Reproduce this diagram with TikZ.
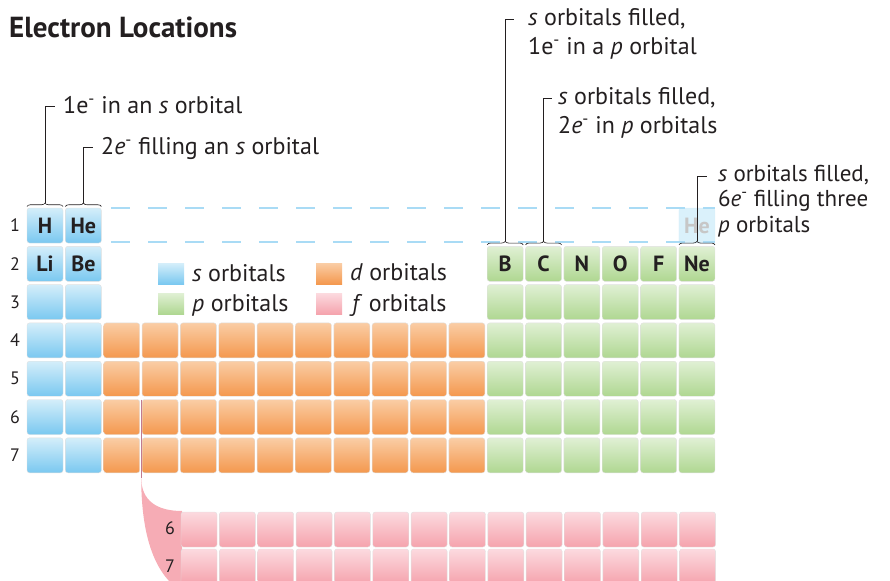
\documentclass[tikz,border=0pt]{standalone}
\usepackage{fontspec}
\setmainfont{PT Sans}
\usetikzlibrary{decorations.pathreplacing}
\definecolor{sblue}{RGB}{122,200,240}
\definecolor{sbluelt}{RGB}{212,238,250}
\definecolor{dorg}{RGB}{244,152,78}
\definecolor{dorglt}{RGB}{250,205,165}
\definecolor{pgrn}{RGB}{175,215,145}
\definecolor{pgrnlt}{RGB}{224,240,212}
\definecolor{fpink}{RGB}{245,163,173}
\definecolor{fpinklt}{RGB}{252,218,223}
\definecolor{ink}{RGB}{35,31,32}
\definecolor{mauve}{RGB}{192,122,144}
\newcommand{\elminus}{\textsuperscript{-}}
\begin{document}
\begin{tikzpicture}[x=1pt,y=1pt,
  cellbase/.style={anchor=north west, minimum width=36pt, minimum height=35pt,
    inner sep=0pt, outer sep=0pt, rounded corners=2.5pt, draw=black!12, line width=0.4pt},
  scell/.style={cellbase, top color=sbluelt, bottom color=sblue},
  dcell/.style={cellbase, top color=dorglt, bottom color=dorg},
  pcell/.style={cellbase, top color=pgrnlt, bottom color=pgrn},
  fcell/.style={cellbase, top color=fpinklt, bottom color=fpink},
  swatch/.style={anchor=north west, minimum width=26pt, minimum height=21pt, inner sep=0pt},
  elem/.style={font=\fontsize{22}{22}\selectfont\bfseries, text=ink, inner sep=0pt},
  lbl/.style={font=\fontsize{24}{28}\selectfont, text=ink, inner sep=0pt, anchor=base west},
  num/.style={font=\fontsize{18}{18}\selectfont, text=ink, inner sep=0pt},
  brc/.style={decorate, decoration={brace, amplitude=3.5pt, raise=1.5pt}, line width=0.6pt, draw=ink},
  conn/.style={line width=0.7pt, draw=ink},
  dashln/.style={draw=sblue!65, line width=1.1pt, dash pattern=on 19pt off 18pt}
]
\useasboundingbox (0,0) rectangle (890,-580);

% title
\node[font=\fontsize{29}{29}\selectfont\bfseries, text=ink, inner sep=0pt, anchor=base west] (title) at (9,-38) {Electron Locations};

% s block
\foreach \r in {1,...,7}
  \foreach \c in {1,2}
    \node[scell] (c\c-\r) at ({27+(\c-1)*38.35},{-(208+(\r-1)*38.3)}) {};
% d block
\foreach \r in {4,...,7}
  \foreach \c in {3,...,12}
    \node[dcell] (c\c-\r) at ({27+(\c-1)*38.35},{-(208+(\r-1)*38.3)}) {};
% p block
\foreach \r in {2,...,7}
  \foreach \c in {13,...,18}
    \node[pcell] (c\c-\r) at ({27+(\c-1)*38.35},{-(208+(\r-1)*38.3)}) {};

% ghost He
\node[cellbase, fill=sbluelt!85, draw=sblue!30] (ghost) at ({27+17*38.35},-208) {};
\node[elem, text=black!22] (tghost) at (ghost) {He};
\draw[dashln] ([xshift=10pt]c2-1.north east) -- (ghost.north east);
\draw[dashln] ([xshift=10pt,yshift=1pt]c2-1.south east) -- ([yshift=1pt]ghost.south east);

% element symbols
\node[elem] (tH)  at (c1-1) {H};
\node[elem] (tHe) at (c2-1) {He};
\node[elem] (tLi) at (c1-2) {Li};
\node[elem] (tBe) at (c2-2) {Be};
\node[elem] (tB)  at (c13-2) {B};
\node[elem] (tC)  at (c14-2) {C};
\node[elem] (tN)  at (c15-2) {N};
\node[elem] (tO)  at (c16-2) {O};
\node[elem] (tF)  at (c17-2) {F};
\node[elem] (tNe) at (c18-2) {Ne};

% period numbers
\foreach \r in {1,...,7}
  \node[num] (n\r) at (15,{-(225.5+(\r-1)*38.3)}) {\r};

% legend
\node[swatch, top color=sbluelt, bottom color=sblue] (ls) at (158,-263) {};
\node[lbl] (lst) at (192,-281) {\textit{s} orbitals};
\node[swatch, top color=pgrnlt, bottom color=pgrn] (lp) at (158,-293) {};
\node[lbl] (lpt) at (192,-311) {\textit{p} orbitals};
\node[swatch, top color=dorglt, bottom color=dorg] (ld) at (316,-263) {};
\node[lbl] (ldt) at (350,-280) {\textit{d} orbitals};
\node[swatch, top color=fpinklt, bottom color=fpink] (lf) at (316,-293) {};
\node[lbl] (lft) at (352,-311) {\textit{f} orbitals};

% f block connector flare
\coordinate (fl0) at ([xshift=1.5pt]c3-6.north east);
\coordinate (fl1) at ([xshift=1.5pt,yshift=-78pt]c3-6.north east);
\fill[fpink!90] (fl1) .. controls +(0,-24) and (158,-511) .. (182,-511) -- (182,-584) -- (172,-584) .. controls (152,-565) and (fl1 |- 0,-530) .. (fl1) -- cycle;
\draw[draw=mauve, line width=0.8pt] (fl0) -- (fl1);

% f block
\foreach \r in {0,1}
  \foreach \k in {0,...,13}
    \node[fcell] (f\k-\r) at ({181+\k*38.35},{-(512+\r*37)}) {};
\node[num] (f6) at (170,-528) {6};
\node[num] (f7) at (170,-566) {7};

% braces
\draw[brc] (c1-1.north west) -- (c1-1.north east);
\draw[brc] (c2-1.north west) -- (c2-1.north east);
\draw[brc] (c13-2.north west) -- (c13-2.north east);
\draw[brc] (c14-2.north west) -- (c14-2.north east);
\draw[brc] (c18-2.north west) -- (c18-2.north east);
\coordinate (bH)  at ([yshift=5pt]c1-1.north);
\coordinate (bHe) at ([yshift=5pt]c2-1.north);
\coordinate (bB)  at ([yshift=5pt]c13-2.north);
\coordinate (bC)  at ([yshift=5pt]c14-2.north);
\coordinate (bNe) at ([yshift=5pt]c18-2.north);

% labels
\node[lbl] (L1) at (63,-114) {1e\elminus{} in an \textit{s} orbital};
\coordinate (k1) at (55,-106);
\draw[conn] (bH) |- (k1);

\node[lbl] (L2) at (101,-155) {2\textit{e}\elminus{} filling an \textit{s} orbital};
\coordinate (k2) at (93,-147);
\draw[conn] (bHe) |- (k2);

\node[lbl] (L3a) at (528,-26) {\textit{s} orbitals filled,};
\node[lbl] (L3b) at (528,-55) {1e\elminus{} in a \textit{p} orbital};
\coordinate (k3) at (514,-19);
\draw[conn] (bB) |- (k3);

\node[lbl] (L4a) at (558,-105) {\textit{s} orbitals filled,};
\node[lbl] (L4b) at (558,-134) {2\textit{e}\elminus{} in \textit{p} orbitals};
\coordinate (k4) at (552,-98);
\draw[conn] (bC) |- (k4);

\node[font=\fontsize{23}{25.5}\selectfont, text=ink, inner sep=0pt, align=left, anchor=north west] (L5) at (718,-165)
  {\textit{s} orbitals filled,\\6\textit{e}\elminus{} filling three\\\textit{p} orbitals};
\coordinate (k5) at (707,-176);
\draw[conn] (bNe) |- (k5);
\end{tikzpicture}
\end{document}
